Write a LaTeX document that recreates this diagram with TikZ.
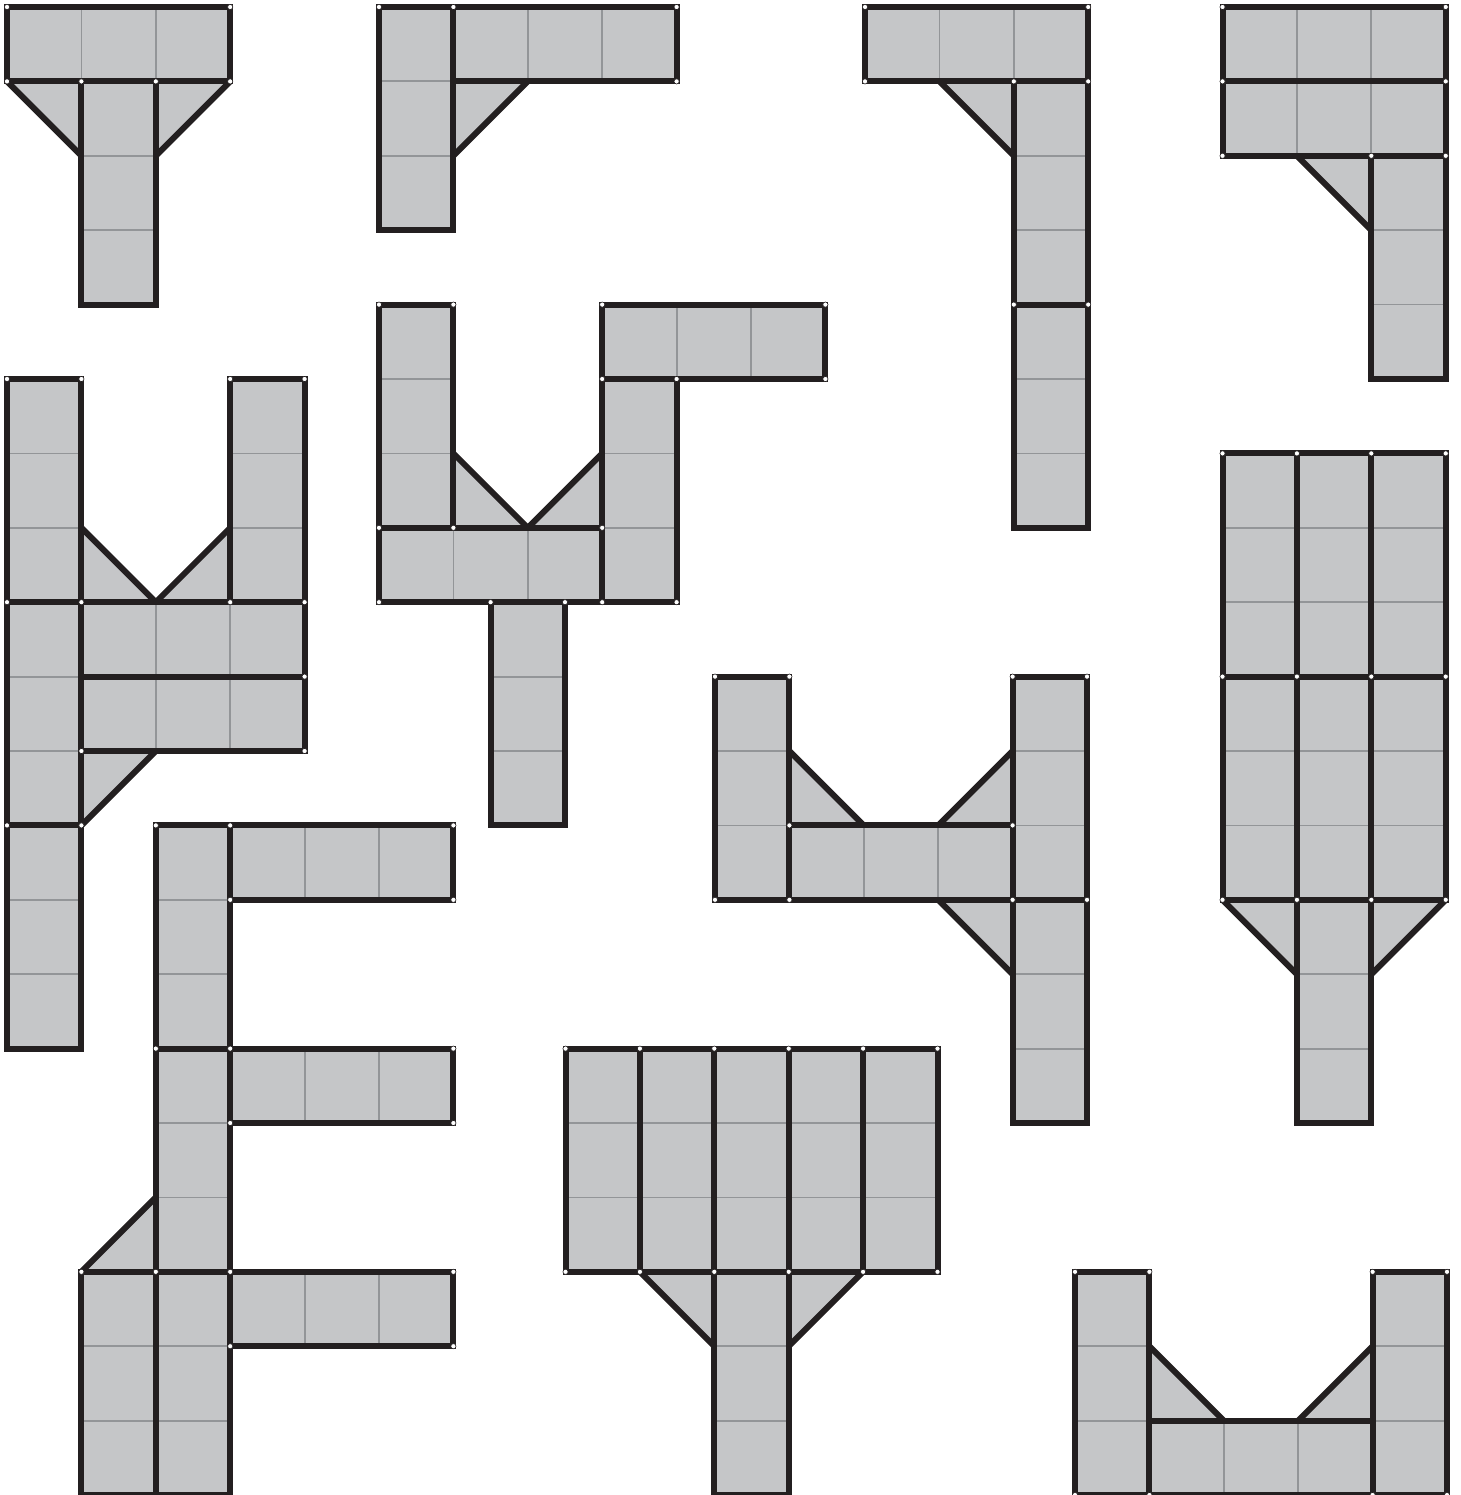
\documentclass[tikz,border=0pt]{standalone}
\definecolor{cellfill}{HTML}{C5C6C8}
\definecolor{edgeink}{HTML}{231F20}
\definecolor{cellline}{HTML}{939598}
\tikzset{
  cellsep/.style={draw=cellline, line width=1.8pt},
  outline/.style={draw=edgeink, line width=6pt, line join=miter},
  hingedot/.style={fill=white, draw=edgeink, line width=0.6pt},
}
\def\u{74.4}
\newcommand\allbars{%
 % A
 \hb{7}{0}{0}\vb{7}{1}{1}%
 % B
 \vb{379}{0}{0}\hb{379}{1}{0}%
 % C
 \hb{865}{0}{0}\vb{865}{2}{1}\vb{865}{2}{4}%
 % D
 \hb{1222.5}{0}{0}\hb{1222.5}{0}{1}\vb{1222.5}{2}{2}%
 % E
 \vb{7}{0}{5}\vb{7}{0}{8}\vb{7}{0}{11}\vb{7}{3}{5}\hb{7}{1}{8}\hb{7}{1}{9}%
 % F
 \vb{379}{0}{4}\hb{379}{0}{7}\vb{379}{3}{5}\hb{379}{3}{4}\vb{379}{1.5}{8}%
 % G
 \vb{715}{0}{9}\hb{715}{1}{11}\vb{715}{4}{9}\vb{715}{4}{12}%
 % H
 \vb{1222.5}{0}{6}\vb{1222.5}{1}{6}\vb{1222.5}{2}{6}%
 \vb{1222.5}{0}{9}\vb{1222.5}{1}{9}\vb{1222.5}{2}{9}\vb{1222.5}{1}{12}%
 % I
 \vb{7}{2}{11}\vb{7}{2}{14}\hb{7}{3}{11}\hb{7}{3}{14}\hb{7}{3}{17}\vb{7}{1}{17}\vb{7}{2}{17}%
 % J
 \vb{565.5}{0}{14}\vb{565.5}{1}{14}\vb{565.5}{2}{14}\vb{565.5}{3}{14}\vb{565.5}{4}{14}\vb{565.5}{2}{17}%
 % K
 \vb{1075}{0}{17}\hb{1075}{1}{19}\vb{1075}{4}{17}%
}
\newcommand\alltris{%
 \tr{7}{0}{1}{1}{2}{1}{1}\tr{7}{3}{1}{2}{2}{2}{1}%
 \tr{379}{2}{1}{1}{2}{1}{1}%
 \tr{865}{1}{1}{2}{2}{2}{1}%
 \tr{1222.5}{1}{2}{2}{3}{2}{2}%
 \tr{7}{1}{7}{2}{8}{1}{8}\tr{7}{3}{7}{2}{8}{3}{8}\tr{7}{2}{10}{1}{11}{1}{10}%
 \tr{379}{1}{6}{2}{7}{1}{7}\tr{379}{3}{6}{2}{7}{3}{7}%
 \tr{715}{1}{10}{2}{11}{1}{11}\tr{715}{4}{10}{3}{11}{4}{11}\tr{715}{3}{12}{4}{13}{4}{12}%
 \tr{1222.5}{0}{12}{1}{13}{1}{12}\tr{1222.5}{3}{12}{2}{13}{2}{12}%
 \tr{7}{1}{17}{2}{16}{2}{17}%
 \tr{565.5}{1}{17}{2}{18}{2}{17}\tr{565.5}{4}{17}{3}{18}{3}{17}%
 \tr{1075}{1}{18}{2}{19}{1}{19}\tr{1075}{4}{18}{3}{19}{4}{19}%
}
\begin{document}
\begin{tikzpicture}[x=1pt,y=-1pt]
\useasboundingbox (0,0) rectangle (1460,1495);
\clip (0,0) rectangle (1460,1495);
% pass 1: fills and thin cell lines
\begin{scope}
\def\hb#1#2#3{\fill[cellfill] ({#1+(#2)*\u},{7+(#3)*\u}) rectangle ++(3*\u,\u);
  \draw[cellsep] ({#1+(#2+1)*\u},{7+(#3)*\u}) -- ++(0,\u) ({#1+(#2+2)*\u},{7+(#3)*\u}) -- ++(0,\u);}
\def\vb#1#2#3{\fill[cellfill] ({#1+(#2)*\u},{7+(#3)*\u}) rectangle ++(\u,3*\u);
  \draw[cellsep] ({#1+(#2)*\u},{7+(#3+1)*\u}) -- ++(\u,0) ({#1+(#2)*\u},{7+(#3+2)*\u}) -- ++(\u,0);}
\def\tr#1#2#3#4#5#6#7{\fill[cellfill] ({#1+(#2)*\u},{7+(#3)*\u}) -- ({#1+(#4)*\u},{7+(#5)*\u}) -- ({#1+(#6)*\u},{7+(#7)*\u}) -- cycle;}
\allbars
\alltris
\end{scope}
% pass 2: thick outlines
\begin{scope}
\def\hb#1#2#3{\draw[outline] ({#1+(#2)*\u},{7+(#3)*\u}) rectangle ++(3*\u,\u);}
\def\vb#1#2#3{\draw[outline] ({#1+(#2)*\u},{7+(#3)*\u}) rectangle ++(\u,3*\u);}
\def\tr#1#2#3#4#5#6#7{\draw[outline] ({#1+(#2)*\u},{7+(#3)*\u}) -- ({#1+(#4)*\u},{7+(#5)*\u});}
\allbars
\alltris
\end{scope}
% pass 3: hinge dots
\foreach \xo/\c/\r in {
 7/0/0, 7/3/0, 7/0/1, 7/1/1, 7/2/1, 7/3/1,
 379/0/0, 379/1/0, 379/4/0, 379/4/1,
 865/0/0, 865/3/0, 865/0/1, 865/2/1, 865/3/1, 865/2/4, 865/3/4,
 1222.5/0/0, 1222.5/3/0, 1222.5/0/1, 1222.5/3/1, 1222.5/0/2, 1222.5/2/2, 1222.5/3/2,
 7/0/5, 7/1/5, 7/3/5, 7/4/5, 7/0/8, 7/1/8, 7/3/8, 7/4/8, 7/4/9, 7/1/10, 7/4/10, 7/0/11, 7/1/11,
 379/0/4, 379/1/4, 379/3/4, 379/6/4, 379/3/5, 379/4/5, 379/6/5, 379/0/7, 379/1/7, 379/3/7,
 379/0/8, 379/1.5/8, 379/2.5/8, 379/3/8, 379/4/8,
 715/0/9, 715/1/9, 715/4/9, 715/5/9, 715/1/11, 715/4/11, 715/0/12, 715/1/12, 715/4/12, 715/5/12,
 1222.5/0/6, 1222.5/1/6, 1222.5/2/6, 1222.5/3/6,
 1222.5/0/9, 1222.5/1/9, 1222.5/2/9, 1222.5/3/9,
 1222.5/0/12, 1222.5/1/12, 1222.5/2/12, 1222.5/3/12,
 7/2/11, 7/3/11, 7/6/11, 7/3/12, 7/6/12, 7/2/14, 7/3/14, 7/6/14, 7/3/15, 7/6/15,
 7/1/17, 7/2/17, 7/3/17, 7/6/17, 7/3/18, 7/6/18,
 565.5/0/14, 565.5/1/14, 565.5/2/14, 565.5/3/14, 565.5/4/14, 565.5/5/14,
 565.5/0/17, 565.5/1/17, 565.5/2/17, 565.5/3/17, 565.5/4/17, 565.5/5/17,
 1075/0/17, 1075/1/17, 1075/4/17, 1075/5/17, 1075/0/20, 1075/1/20, 1075/4/20, 1075/5/20}
 \filldraw[hingedot] ({\xo+\c*\u},{7+\r*\u}) circle (2.6);
\end{tikzpicture}
\end{document}
